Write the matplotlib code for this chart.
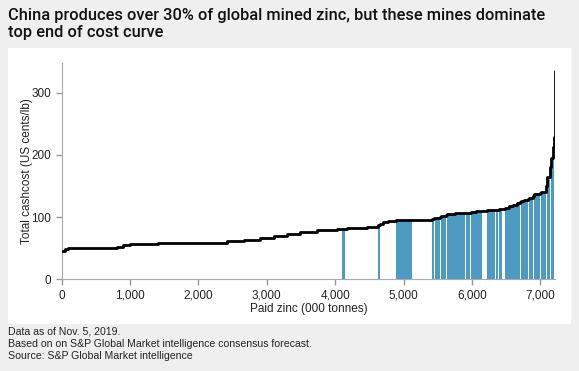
import matplotlib
matplotlib.use("Agg")
import matplotlib.pyplot as plt
from matplotlib.patches import Rectangle
import numpy as np


# ---------------------------
# DATA
# ---------------------------

# paid zinc per mine, 000 tonnes, in cost order
mine_output = [
    50, 40, 310, 405, 95, 100, 415, 485, 520, 240,
    240, 200, 190, 200, 240, 300, 70, 40, 30, 290,
    170, 30, 40, 75, 110, 5, 235, 115, 5, 170,
    25, 25, 65, 20, 75, 12, 123, 145, 13, 50,
    15, 77, 84, 78, 122, 15, 19, 20, 49, 33,
    60, 60, 60, 50, 15, 33, 11, 48, 15, 64,
    15, 92, 10, 78, 10, 38, 15, 31, 20, 5, 4,
]
# total cash cost, US cents/lb
mine_cost = [
    46, 49, 51, 51, 52.5, 54.5, 56, 59, 59, 61.5,
    63, 67, 69.5, 73, 76, 78.5, 80.5, 80.5, 81, 83,
    84.5, 87, 89, 92, 94, 94, 94.5, 95, 95, 95,
    96.5, 98, 98, 100, 102, 103, 104.5, 106, 106, 106.5,
    107, 108, 109.5, 110, 111.5, 112, 112, 112, 112.5, 113,
    115, 117.5, 120, 122.5, 124, 125, 126, 127.5, 129, 131,
    134, 136.5, 139, 141, 150, 165, 180, 195, 212, 228, 335,
]
# 1 = Chinese mine
is_china = [
    0, 0, 0, 0, 0, 0, 0, 0, 0, 0,
    0, 0, 0, 0, 0, 0, 0, 1, 0, 0,
    0, 1, 0, 0, 0, 1, 1, 0, 1, 0,
    1, 0, 1, 0, 1, 0, 1, 1, 0, 1,
    0, 1, 1, 0, 1, 0, 1, 0, 1, 0,
    1, 1, 1, 1, 0, 1, 0, 1, 0, 1,
    0, 1, 0, 1, 0, 1, 0, 1, 1, 0, 0,
]

x_ticks = [0, 1000, 2000, 3000, 4000, 5000, 6000, 7000]
y_ticks = [0, 100, 200, 300]

title = ("China produces over 30% of global mined zinc, but these mines dominate\n"
         "top end of cost curve")
notes = ["Data as of Nov. 5, 2019.",
         "Based on on S&P Global Market intelligence consensus forecast.",
         "Source: S&P Global Market intelligence"]

blue = "#4d9ac3"
narrow = ["Liberation Sans", "DejaVu Sans"]


# ---------------------------
# FIGURE
# ---------------------------

out = np.array(mine_output, dtype=float)
cost = np.array(mine_cost, dtype=float)
china = np.array(is_china, dtype=bool)
edges = np.concatenate([[0], np.cumsum(out)])

fig = plt.figure(figsize=(5.79, 3.71), dpi=100, facecolor="#efefef")
fig.patches.append(Rectangle((8 / 579, 1 - 324 / 371), 563 / 579, 276 / 371,
                             transform=fig.transFigure, facecolor="white",
                             edgecolor="none", zorder=-5))

ax = fig.add_axes([61.7 / 579, 1 - 279.3 / 371, 493.3 / 579, 216.6 / 371])
ax.set_facecolor("none")
ax.set_zorder(2)

ax.bar(edges[:-1][china], cost[china], width=out[china], align="edge",
       color=blue, linewidth=0, zorder=2)
curve = ax.stairs(cost, edges, baseline=None, color="black", linewidth=2.0,
                  zorder=3)
curve.set_joinstyle("round")
curve.set_capstyle("round")

ax.set_xlim(0, edges[-1] + 2)
ax.set_ylim(0, 348)
ax.set_xticks(x_ticks)
ax.set_xticklabels([f"{t:,}" for t in x_ticks], family=narrow, fontsize=8.5)
ax.set_yticks(y_ticks)
ax.set_yticklabels([str(t) for t in y_ticks], family=narrow, fontsize=8.5)
ax.tick_params(colors="#999999", labelcolor="#222222", length=4, width=1)

for s in ["top", "right"]:
    ax.spines[s].set_visible(False)
for s in ["left", "bottom"]:
    ax.spines[s].set_color("#aaaaaa")

ax.set_xlabel("Paid zinc (000 tonnes)", family=narrow, fontsize=8.5,
              color="#222222", labelpad=1)
ax.set_ylabel("Total cashcost (US cents/lb)", family=narrow, fontsize=8.5,
              color="#222222", labelpad=-1)

fig.text(8 / 579, 1 - 8 / 371, title, family=["Roboto", "DejaVu Sans"],
         weight="medium", fontsize=11.8, color="#111111", va="top",
         linespacing=1.2)

for i, line in enumerate(notes):
    fig.text(8 / 579, 1 - (332 + 12 * i) / 371, line, family=narrow,
             fontsize=7.6, color="#222222", va="center")

fig.savefig("out.png", dpi=100, facecolor=fig.get_facecolor())
